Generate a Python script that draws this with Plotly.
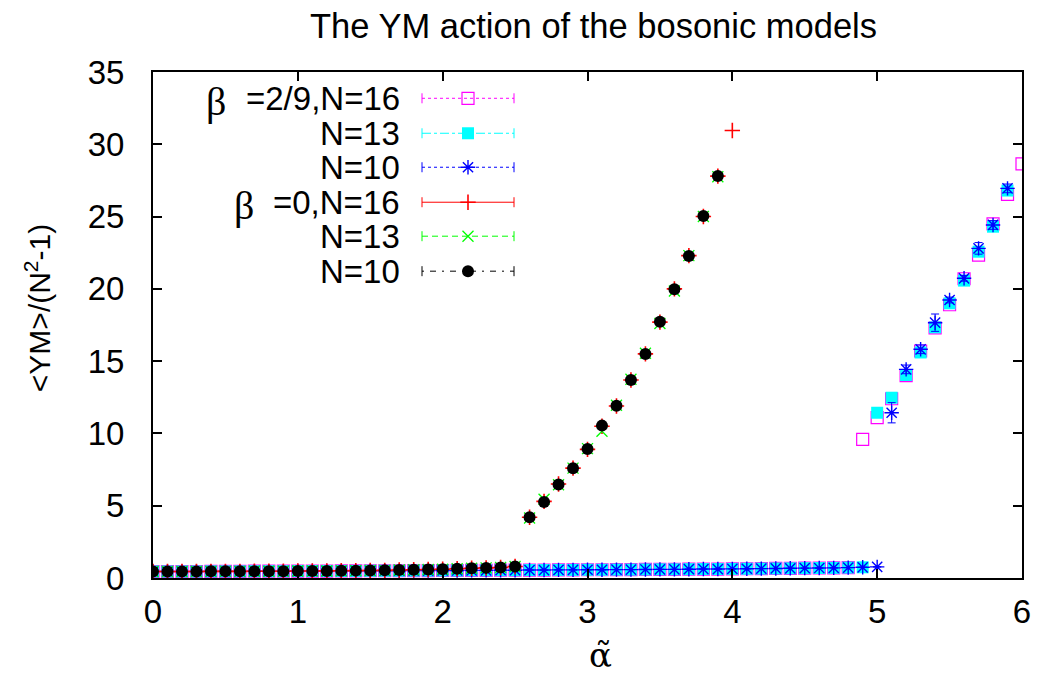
import numpy as np
import plotly.graph_objects as go

# ---- data ----
# beta=2/9 : low branch (alpha = 0.0, 0.1, ...) then high branch
b29_low = [0.45, 0.45, 0.45, 0.45, 0.46, 0.46, 0.46, 0.47, 0.47, 0.47,
           0.48, 0.48, 0.48, 0.49, 0.49, 0.50, 0.50, 0.50, 0.51, 0.51,
           0.52, 0.52, 0.53, 0.53, 0.54, 0.54, 0.55, 0.55, 0.56, 0.56,
           0.57, 0.57, 0.58, 0.58, 0.59, 0.60, 0.60, 0.61, 0.62, 0.62,
           0.63, 0.64, 0.65, 0.66, 0.67, 0.68, 0.69, 0.70, 0.72, 0.74, 0.77]

b29_n16_high_x = [4.9, 5.0, 5.1, 5.2, 5.3, 5.4, 5.5, 5.6, 5.7, 5.8, 5.9, 6.0]
b29_n16_high = [9.59, 11.09, 12.4, 14.0, 15.7, 17.3, 18.9, 20.7, 22.34, 24.5, 26.54, 28.64]

b29_n13_high_x = [5.0, 5.1, 5.2, 5.3, 5.4, 5.5, 5.6, 5.7, 5.8, 5.9]
b29_n13_high = [11.43, 12.47, 14.04, 15.6, 17.34, 19.0, 20.57, 22.57, 24.3, 26.8]

b29_n10_high_x = [5.1, 5.2, 5.3, 5.4, 5.5, 5.6, 5.7, 5.8, 5.9]
b29_n10_high = [11.43, 14.43, 15.82, 17.66, 19.23, 20.73, 22.8, 24.42, 26.95]
b29_n10_err = [0.7, 0.3, 0.3, 0.6, 0.2, 0.2, 0.4, 0.3, 0.3]

# beta=0 : low branch (alpha = 0.0 ... 2.5) then high branch
b0_low = [0.45, 0.45, 0.45, 0.45, 0.46, 0.46, 0.46, 0.47, 0.47, 0.47,
          0.48, 0.48, 0.49, 0.50, 0.51, 0.52, 0.53, 0.55, 0.57, 0.59,
          0.61, 0.64, 0.67, 0.70, 0.73, 0.80]

b0_n16_high_x = [2.6, 2.7, 2.8, 2.9, 3.0, 3.1, 3.2, 3.3, 3.4, 3.5, 3.6, 3.7, 3.8, 3.9, 4.0]
b0_n16_high = [4.2, 5.3, 6.5, 7.6, 8.9, 10.5, 11.9, 13.7, 15.5, 17.7, 20.0, 22.3, 25.0, 27.8, 30.95]

b0_n13_high_x = [2.6, 2.7, 2.8, 2.9, 3.0, 3.1, 3.2, 3.3, 3.4, 3.5, 3.6, 3.7, 3.8, 3.9]
b0_n13_high = [4.15, 5.45, 6.45, 7.6, 8.95, 10.15, 11.95, 13.75, 15.55, 17.6, 19.85, 22.3, 25.0, 27.75]

b0_n10_high_x = [2.6, 2.7, 2.8, 2.9, 3.0, 3.1, 3.2, 3.3, 3.4, 3.5, 3.6, 3.7, 3.8, 3.9]
b0_n10_high = [4.2, 5.25, 6.46, 7.59, 8.92, 10.54, 11.92, 13.7, 15.5, 17.73, 19.97, 22.27, 25.04, 27.8]

# key text; beta prefixes are drawn separately in a serif face
legend_labels = ["=2/9,N=16", "N=13", "N=10", "=0,N=16", "N=13", "N=10"]
legend_beta = {0: 216, 3: 244}   # row -> centre x (page px) of the beta symbol

SANS = "Liberation Sans"


def grid(n):
    # alpha grid 0.0, 0.1, ... used by the low branches
    return list(np.round(np.arange(n) * 0.1, 1))


# (x, y, colour, symbol, size, line width, dash, err)
series = [
    (grid(49) + b29_n16_high_x, b29_low[:49] + b29_n16_high, "#ff00ff", "square-open", 12, 1.2, "dot", None),
    (grid(50) + b29_n13_high_x, b29_low[:50] + b29_n13_high, "#00ffff", "square", 12, 0, "dashdot", None),
    (grid(51) + b29_n10_high_x, b29_low[:51] + b29_n10_high, "#0000ff", "asterisk-open", 12, 1.4, "3px,3px", [0] * 51 + b29_n10_err),
    (grid(26) + b0_n16_high_x, b0_low + b0_n16_high, "#ff0000", "cross-thin-open", 11, 1.6, "solid", None),
    (grid(26) + b0_n13_high_x, b0_low + b0_n13_high, "#00ff00", "x-thin-open", 11, 1.3, "6px,4px", None),
    (grid(26) + b0_n10_high_x, b0_low + b0_n10_high, "#000000", "circle", 12, 0, "2px,6px,6px,6px", None),
]

fig = go.Figure()

for x, y, col, sym, size, lw, dash, err in series:
    marker = dict(color=col, symbol=sym, size=size, line=dict(color=col, width=lw))
    tr = go.Scatter(x=x, y=y, mode="markers", marker=marker, showlegend=False)
    if err is not None:
        tr.error_y = dict(type="data", array=err, color=col, thickness=1, width=4)
    fig.add_trace(tr)

# page pixel -> paper coords (page has an 8px body margin)
x0, x1 = 153.0, 1022.0
y0, y1 = 578.0, 71.7


def px(v):
    return (v - x0) / (x1 - x0)


def py(v):
    return (y0 - v) / (y0 - y1)


# ---- hand-made gnuplot style key: text on the left, sample on the right ----
row_y = [98, 133, 167, 202, 236, 271]
for i, (x, y, col, sym, size, lw, dash, err) in enumerate(series):
    yy = py(row_y[i])
    fig.add_annotation(x=px(402), y=yy, xref="paper", yref="paper", text=legend_labels[i],
                       showarrow=False, xanchor="right", yanchor="middle",
                       font=dict(size=33, color="black", family=SANS))
    if i in legend_beta:
        fig.add_annotation(x=px(legend_beta[i]), y=py(row_y[i] + 3), xref="paper", yref="paper",
                           text="\u03b2", showarrow=False, xanchor="center", yanchor="middle",
                           font=dict(size=40, color="black", family="Liberation Serif"))
    fig.add_shape(type="line", xref="paper", yref="paper", x0=px(422), x1=px(514), y0=yy, y1=yy,
                  line=dict(color=col, width=1, dash=dash))
    for cx in (422, 514):
        fig.add_shape(type="line", xref="paper", yref="paper", x0=px(cx), x1=px(cx),
                      y0=py(row_y[i] - 5), y1=py(row_y[i] + 5), line=dict(color=col, width=1))
    fig.add_trace(go.Scatter(x=[px(468)], y=[yy], xaxis="x2", yaxis="y2", mode="markers",
                             marker=dict(color=col, symbol=sym, size=size, line=dict(color=col, width=lw)),
                             showlegend=False, hoverinfo="skip"))

# axis titles and plot title
fig.add_annotation(x=px(38), y=py(308), xref="paper", yref="paper", text="&lt;YM&gt;/(N<sup>2</sup>-1)",
                   textangle=-90, showarrow=False, xanchor="center", yanchor="middle",
                   font=dict(size=30, color="black", family=SANS))
fig.add_annotation(x=px(600), y=py(655), xref="paper", yref="paper", text="\u03b1\u0303",
                   showarrow=False, xanchor="center", yanchor="middle",
                   font=dict(size=34, color="black", family="DejaVu Serif"))
fig.add_annotation(x=px(593), y=py(26), xref="paper", yref="paper", text="The YM action of the bosonic models",
                   showarrow=False, xanchor="center", yanchor="middle",
                   font=dict(size=34.5, color="black", family=SANS))

axis_common = dict(showgrid=False, zeroline=False, showline=True, linecolor="black", linewidth=2,
                   mirror="allticks", ticks="inside", ticklen=9, tickwidth=2, tickcolor="black",
                   automargin=False, tickfont=dict(size=33, color="black", family=SANS))

fig.update_layout(
    width=1025, height=673,
    paper_bgcolor="white", plot_bgcolor="white",
    margin=dict(l=145, r=11, t=64, b=103),
    xaxis=dict(range=[0, 6], dtick=1, ticklabelstandoff=3, **axis_common),
    yaxis=dict(range=[0, 35], dtick=5, ticklabelstandoff=20, **axis_common),
    xaxis2=dict(range=[0, 1], overlaying="x", visible=False),
    yaxis2=dict(range=[0, 1], overlaying="y", visible=False),
)

fig.write_html("out.html")
